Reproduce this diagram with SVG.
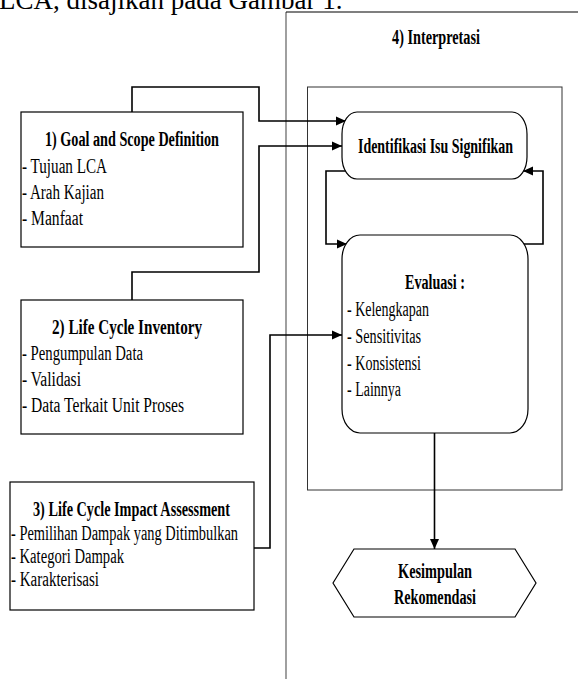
<svg xmlns="http://www.w3.org/2000/svg" width="578" height="679" viewBox="0 0 578 679">
<style>
text{font-family:"Liberation Serif","Times New Roman",serif;font-size:20px;fill:#000}
.b{font-weight:bold}
.box{fill:#fff;stroke:#000;stroke-width:1.2}
.frame{fill:none;stroke:#333;stroke-width:1}
.conn{fill:none;stroke:#000;stroke-width:1.6}
.arr{marker-end:url(#ah)}
</style>
<defs>
<marker id="ah" markerUnits="userSpaceOnUse" markerWidth="10" markerHeight="10" refX="10" refY="5" orient="auto">
<path d="M0,0.5 L10,5 L0,9.5 z" fill="#000"/>
</marker>
</defs>
<rect width="578" height="679" fill="#fff"/>
<text x="-1" y="9" style="font-size:27px;font-weight:normal">LCA, disajikan pada Gambar 1.</text>

<g id="interpretasi">
<path d="M286,679 V12" fill="none" stroke="#888" stroke-width="1.6"/>
<path d="M286,12 H578" fill="none" stroke="#000" stroke-width="1.2"/>
<text class="b" x="392" y="44" textLength="88" lengthAdjust="spacingAndGlyphs">4) Interpretasi</text>
<rect class="frame" x="307.5" y="87" width="254.5" height="403"/>
</g>

<g id="connectors">
<path class="conn arr" d="M132,112 V87 H259 V121 H346"/>
<path class="conn arr" d="M132,300 V272 H259 V146 H342"/>
<path class="conn arr" d="M254,548 H270 V335 H342"/>
<path class="conn arr" d="M349,171 H326 V244 H347"/>
<path class="conn arr" d="M523,244 H543 V171 H523"/>
<path class="conn arr" d="M434.5,433 V549"/>
</g>

<g id="goal">
<rect class="box" x="21" y="112" width="222" height="135"/>
<text class="b" x="45" y="146" textLength="174" lengthAdjust="spacingAndGlyphs">1) Goal and Scope Definition</text>
<text x="22" y="173" textLength="85" lengthAdjust="spacingAndGlyphs">- Tujuan LCA</text>
<text x="22" y="199" textLength="82" lengthAdjust="spacingAndGlyphs">- Arah Kajian</text>
<text x="22" y="225" textLength="61" lengthAdjust="spacingAndGlyphs">- Manfaat</text>
</g>

<g id="inventory">
<rect class="box" x="21" y="300" width="222" height="134"/>
<text class="b" x="52" y="334" textLength="150" lengthAdjust="spacingAndGlyphs">2) Life Cycle Inventory</text>
<text x="22" y="360" textLength="121" lengthAdjust="spacingAndGlyphs">- Pengumpulan Data</text>
<text x="22" y="386" textLength="59" lengthAdjust="spacingAndGlyphs">- Validasi</text>
<text x="22" y="412" textLength="162" lengthAdjust="spacingAndGlyphs">- Data Terkait Unit Proses</text>
</g>

<g id="impact">
<rect class="box" x="10" y="482" width="244" height="128"/>
<text class="b" x="33" y="516" textLength="197" lengthAdjust="spacingAndGlyphs">3) Life Cycle Impact Assessment</text>
<text x="11" y="540" textLength="227" lengthAdjust="spacingAndGlyphs">- Pemilihan Dampak yang Ditimbulkan</text>
<text x="11" y="563" textLength="113" lengthAdjust="spacingAndGlyphs">- Kategori Dampak</text>
<text x="11" y="586" textLength="88" lengthAdjust="spacingAndGlyphs">- Karakterisasi</text>
</g>

<g id="identifikasi">
<rect class="box" x="342" y="112" width="185" height="67" rx="15" ry="22"/>
<text class="b" x="358" y="153" textLength="155" lengthAdjust="spacingAndGlyphs">Identifikasi Isu Signifikan</text>
</g>

<g id="evaluasi">
<rect class="box" x="342" y="235" width="186" height="198" rx="18" ry="24"/>
<text class="b" x="405" y="289" textLength="60" lengthAdjust="spacingAndGlyphs">Evaluasi :</text>
<text x="347" y="316" textLength="82" lengthAdjust="spacingAndGlyphs">- Kelengkapan</text>
<text x="347" y="343" textLength="74" lengthAdjust="spacingAndGlyphs">- Sensitivitas</text>
<text x="347" y="370" textLength="74" lengthAdjust="spacingAndGlyphs">- Konsistensi</text>
<text x="347" y="396" textLength="54" lengthAdjust="spacingAndGlyphs">- Lainnya</text>
</g>

<g id="kesimpulan">
<polygon class="box" points="333,583 354,549 515,549 536,583 515,617 354,617"/>
<text class="b" x="398" y="578" textLength="74" lengthAdjust="spacingAndGlyphs">Kesimpulan</text>
<text class="b" x="394" y="604" textLength="82" lengthAdjust="spacingAndGlyphs">Rekomendasi</text>
</g>
</svg>
